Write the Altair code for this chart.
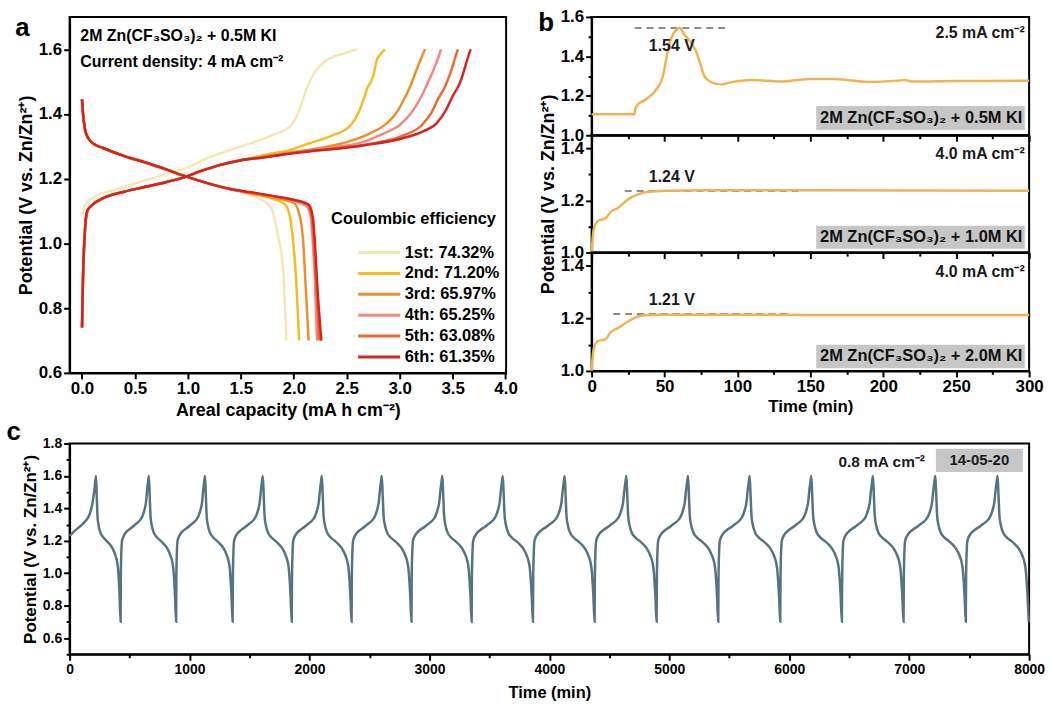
import altair as alt
import pandas as pd

FONT = "Liberation Sans"

# ---------------- panel a : charge / discharge curves ----------------
A_CYCLES = ["1st: 74.32%", "2nd: 71.20%", "3rd: 65.97%", "4th: 65.25%", "5th: 63.08%", "6th: 61.35%"]
A_COLORS = ["#F6E6B6", "#F2BC22", "#E8902E", "#EE8B80", "#EA6B2D", "#D72320"]

CHARGE_BASE = [(0.0, 0.74), (0.01, 0.90), (0.03, 1.05), (0.05, 1.10), (0.1, 1.12), (0.2, 1.14),
               (0.4, 1.16), (0.6, 1.175), (0.8, 1.19), (1.0, 1.208), (1.1, 1.221), (1.2, 1.232),
               (1.3, 1.242), (1.4, 1.25), (1.5, 1.257)]
charge_1 = [(0.0, 1.09), (0.03, 1.12), (0.1, 1.14), (0.3, 1.165), (0.6, 1.195), (0.8, 1.215), (1.0, 1.235),
            (1.2, 1.265), (1.41, 1.29), (1.6, 1.31), (1.8, 1.335), (1.97, 1.363), (2.05, 1.41), (2.13, 1.486),
            (2.2, 1.53), (2.32, 1.568), (2.38, 1.578), (2.5, 1.59), (2.6, 1.60)]
charge_2 = CHARGE_BASE + [(1.7, 1.272), (2.0, 1.292), (2.13, 1.308), (2.35, 1.332), (2.53, 1.363), (2.61, 1.404),
                          (2.66, 1.445), (2.69, 1.476), (2.75, 1.517), (2.785, 1.568), (2.82, 1.585), (2.86, 1.60)]
charge_3 = CHARGE_BASE + [(1.7, 1.268), (2.0, 1.283), (2.3, 1.298), (2.5, 1.313), (2.72, 1.34), (2.88, 1.372),
                          (2.97, 1.404), (3.04, 1.445), (3.10, 1.486), (3.16, 1.537), (3.20, 1.57), (3.24, 1.60)]
charge_4 = CHARGE_BASE + [(1.7, 1.267), (2.03, 1.283), (2.4, 1.298), (2.65, 1.313), (2.85, 1.34), (3.0, 1.366),
                          (3.11, 1.404), (3.19, 1.445), (3.25, 1.486), (3.32, 1.537), (3.36, 1.57), (3.39, 1.60)]
charge_5 = CHARGE_BASE + [(1.7, 1.266), (2.03, 1.282), (2.66, 1.305), (3.03, 1.333), (3.21, 1.366), (3.30, 1.404),
                          (3.36, 1.445), (3.43, 1.486), (3.49, 1.537), (3.52, 1.57), (3.55, 1.60)]
charge_6 = CHARGE_BASE + [(1.7, 1.265), (2.03, 1.28), (2.66, 1.303), (3.03, 1.325), (3.22, 1.346), (3.35, 1.372),
                          (3.44, 1.414), (3.50, 1.455), (3.57, 1.497), (3.61, 1.537), (3.64, 1.57), (3.67, 1.60)]

DISCHARGE_BASE = [(0.0, 1.445), (0.01, 1.40), (0.03, 1.35), (0.06, 1.325), (0.1, 1.31), (0.2, 1.295),
                  (0.4, 1.27), (0.6, 1.25), (0.8, 1.228), (1.0, 1.205), (1.2, 1.185), (1.4, 1.168)]
discharge_1 = DISCHARGE_BASE + [(1.6, 1.148), (1.72, 1.13), (1.79, 1.108), (1.85, 1.025), (1.90, 0.92), (1.93, 0.70)]
discharge_2 = DISCHARGE_BASE + [(1.6, 1.153), (1.8, 1.138), (1.92, 1.12), (1.96, 1.087), (1.99, 1.02), (2.02, 0.90), (2.05, 0.70)]
discharge_3 = DISCHARGE_BASE + [(1.6, 1.155), (1.8, 1.142), (2.0, 1.125), (2.06, 1.08), (2.09, 1.0), (2.11, 0.88), (2.14, 0.70)]
discharge_4 = DISCHARGE_BASE + [(1.6, 1.156), (1.8, 1.145), (2.0, 1.132), (2.12, 1.115), (2.16, 1.085), (2.18, 1.0), (2.20, 0.88), (2.22, 0.70)]
discharge_5 = DISCHARGE_BASE + [(1.6, 1.157), (1.8, 1.146), (2.0, 1.134), (2.13, 1.12), (2.17, 1.08), (2.19, 1.0), (2.21, 0.88), (2.24, 0.70)]
discharge_6 = DISCHARGE_BASE + [(1.6, 1.158), (1.8, 1.147), (2.0, 1.135), (2.14, 1.12), (2.18, 1.08), (2.20, 1.0), (2.22, 0.88), (2.26, 0.70)]

A_CHARGES = [charge_1, charge_2, charge_3, charge_4, charge_5, charge_6]
A_DISCHARGES = [discharge_1, discharge_2, discharge_3, discharge_4, discharge_5, discharge_6]

A_NOTE_TEXT = ["2M Zn(CF\u2083SO\u2083)\u2082 + 0.5M KI", "Current density: 4 mA cm\u207B\u00B2"]
A_NOTE_X = [-0.016, -0.016]
A_NOTE_Y = [1.641, 1.561]

A_XTICKS = [0.0, 0.25, 0.5, 0.75, 1.0, 1.25, 1.5, 1.75, 2.0, 2.25, 2.5, 2.75, 3.0, 3.25, 3.5, 3.75, 4.0]
A_YTICKS = [0.6, 0.7, 0.8, 0.9, 1.0, 1.1, 1.2, 1.3, 1.4, 1.5, 1.6]

# ---------------- panel b : voltage vs time ----------------
B1_T = [0, 29.5, 29.8, 31.8, 35, 38.7, 44.3, 48.9, 51.1, 53.5, 56.4, 58.6, 60.2, 63.7, 68.2, 71.6, 75, 77.3,
        81.8, 88.6, 97.8, 110, 130, 150, 165, 180, 190, 210, 215, 220, 250, 300]
B1_V = [1.106, 1.106, 1.13, 1.157, 1.172, 1.19, 1.232, 1.30, 1.384, 1.469, 1.519, 1.536, 1.545, 1.51, 1.469,
        1.426, 1.35, 1.30, 1.27, 1.258, 1.272, 1.28, 1.272, 1.285, 1.285, 1.276, 1.27, 1.277, 1.28, 1.272, 1.275, 1.276]
B2_T = [0, 0.5, 1.1, 2.3, 4.5, 8, 10.2, 12.5, 18.2, 25, 31.8, 38.6, 52.3, 80, 150, 220, 300]
B2_V = [1.0, 1.04, 1.078, 1.103, 1.122, 1.128, 1.135, 1.153, 1.172, 1.204, 1.223, 1.233, 1.237, 1.239, 1.239, 1.238, 1.237]
B3_T = [0, 0.5, 1.1, 2.3, 4.5, 8, 10.2, 12.5, 18.2, 25, 31.8, 38.6, 52.3, 80, 150, 220, 300]
B3_V = [1.0, 1.04, 1.074, 1.099, 1.114, 1.118, 1.124, 1.143, 1.163, 1.188, 1.207, 1.213, 1.214, 1.214, 1.213, 1.213, 1.213]

B_DASH_T1 = [29.5, 22.7, 14.8]
B_DASH_T2 = [92, 143, 134]
B_DASH_V = [1.544, 1.236, 1.216]
B_VLABEL = ["1.54 V", "1.24 V", "1.21 V"]
B_VLABEL_T = [55, 55, 55]
B_VLABEL_V = [1.452, 1.289, 1.270]
B_CURRENT = ["2.5 mA cm\u207B\u00B2", "4.0 mA cm\u207B\u00B2", "4.0 mA cm\u207B\u00B2"]
B_CURRENT_V = [1.519, 1.379, 1.376]
B_CURRENT_T = 297
B_BOX_T = (154, 297)
B_BOX_V1 = [1.027, 1.015, 1.010]
B_BOX_V2 = [1.148, 1.103, 1.099]
B_BOX_TEXT = ["2M Zn(CF\u2083SO\u2083)\u2082 + 0.5M KI", "2M Zn(CF\u2083SO\u2083)\u2082 + 1.0M KI",
              "2M Zn(CF\u2083SO\u2083)\u2082 + 2.0M KI"]
B_BOX_TEXT_T = 226
B_BOX_TEXT_V = [1.089, 1.059, 1.055]
B_XTICKS = [0, 25, 50, 75, 100, 125, 150, 175, 200, 225, 250, 275, 300]
B_YTICKS_TOP = [1.0, 1.1, 1.2, 1.3, 1.4, 1.5, 1.6]
B_YTICKS = [1.0, 1.1, 1.2, 1.3, 1.4]

# ---------------- panel c : long cycling ----------------
C_FIRST = [(0, 1.23), (40, 1.26), (90, 1.29), (130, 1.32), (165, 1.36), (190, 1.43), (208, 1.52), (220, 1.60)]
C_PEAKS = [220, 661, 1129, 1611, 2103, 2603, 3108, 3612, 4128, 4642, 5156, 5670, 6184, 6698, 7218, 7737]
C_TROUGHS = [425, 888, 1359, 1852, 2351, 2850, 3352, 3863, 4377, 4894, 5408, 5925, 6439, 6953, 7472, 7997]
C_CHARGE_SHAPE = [(0.0, 0.70), (0.01, 1.00), (0.05, 1.20), (0.14, 1.24), (0.25, 1.262), (0.43, 1.287),
                  (0.55, 1.305), (0.71, 1.332), (0.78, 1.355), (0.85, 1.394), (0.90, 1.44), (0.94, 1.517),
                  (0.97, 1.56), (1.0, 1.60)]
C_DISCHARGE_SHAPE = [(0.0, 1.60), (0.03, 1.48), (0.06, 1.353), (0.10, 1.30), (0.18, 1.25), (0.30, 1.22),
                     (0.43, 1.20), (0.56, 1.178), (0.68, 1.152), (0.80, 1.106), (0.86, 1.07), (0.90, 1.025),
                     (0.96, 0.86), (1.0, 0.70)]
C_NOTE = "0.8 mA cm\u207B\u00B2"
C_NOTE_T, C_NOTE_V = 7132, 1.685
C_BOX_T = (7223, 7948)
C_BOX_V = (1.624, 1.767)
C_BOX_TEXT = "14-05-20"
C_BOX_TEXT_T, C_BOX_TEXT_V = 7585, 1.695
C_XTICKS = [0, 500, 1000, 1500, 2000, 2500, 3000, 3500, 4000, 4500, 5000, 5500, 6000, 6500, 7000, 7500, 8000]
C_YTICKS = [0.5, 0.6, 0.7, 0.8, 0.9, 1.0, 1.1, 1.2, 1.3, 1.4, 1.5, 1.6, 1.7, 1.8]

YLABEL = "Potential (V vs. Zn/Zn\u00B2\u207A)"


def make_axis(values, test, fmt, label_size, title_size=18, labels=True, title_pad=3):
    kw = dict(values=values, format=fmt, labels=labels,
              labelExpr=f"({test}) ? datum.label : ''",
              tickSize={"condition": {"test": test, "value": 6}, "value": 3.5},
              tickWidth=2, tickColor="black", domainColor="black", domainWidth=2,
              labelFont=FONT, labelFontSize=label_size, labelFontWeight="bold", labelColor="black",
              labelPadding=2, labelFlush=False, labelOverlap=False, grid=False,
              titleFont=FONT, titleFontSize=title_size, titleFontWeight="bold", titleColor="black",
              titlePadding=title_pad)
    return alt.Axis(**kw)


T_HALF = "abs(datum.value*2 - round(datum.value*2)) < 0.01"
T_FIFTH = "abs(datum.value*5 - round(datum.value*5)) < 0.01"

# ---------- build panel a ----------
rows = []
for name, ch, dis in zip(A_CYCLES, A_CHARGES, A_DISCHARGES):
    for i, (x, v) in enumerate(ch):
        rows.append({"cycle": name, "seg": name + " c", "idx": i, "cap": x, "pot": v})
    for i, (x, v) in enumerate(dis):
        rows.append({"cycle": name, "seg": name + " d", "idx": i, "cap": x, "pot": v})
df_a = pd.DataFrame(rows)

xa = alt.X("cap:Q", scale=alt.Scale(domain=[-0.117, 4.005], nice=False, zero=False),
           axis=make_axis(A_XTICKS, T_HALF, ".1f", 17, title_pad=5), title="Areal capacity (mA h cm\u207B\u00B2)")
ya = alt.Y("pot:Q", scale=alt.Scale(domain=[0.6, 1.7], nice=False, zero=False),
           axis=make_axis(A_YTICKS, T_FIFTH, ".1f", 17), title=YLABEL)

lines_a = alt.Chart(df_a).mark_line(strokeWidth=2.5, interpolate="monotone").encode(
    x=xa, y=ya,
    color=alt.Color("cycle:N", scale=alt.Scale(domain=A_CYCLES, range=A_COLORS),
                    legend=alt.Legend(orient="none", legendX=263, legendY=195,
                                      title="Coulombic efficiency", titleFont=FONT, titleFontSize=16.5,
                                      titleFontWeight="bold", titleColor="black", titlePadding=14,
                                      labelFont=FONT, labelFontSize=16.5, labelFontWeight="bold",
                                      labelColor="black", labelOffset=51, symbolType="M1.57,0H5.8",
                                      symbolSize=400, symbolStrokeWidth=3, rowPadding=1)),
    detail="seg:N", order="idx:Q")

df_a_txt = pd.DataFrame({"cap": A_NOTE_X, "pot": A_NOTE_Y, "t": A_NOTE_TEXT})
text_a = alt.Chart(df_a_txt).mark_text(align="left", baseline="middle", font=FONT, fontSize=16,
                                        fontWeight="bold", color="black").encode(
    x=alt.X("cap:Q"), y=alt.Y("pot:Q"), text="t:N")

chart_a = alt.layer(lines_a, text_a).properties(
    width=439, height=358,
    title=alt.TitleParams("a", anchor="start", frame="bounds", font=FONT, fontSize=26, fontWeight="bold",
                          color="black", baseline="alphabetic", dx=-2, dy=45, offset=0))

# ---------- build panel b ----------
B_CURVES = [(B1_T, B1_V), (B2_T, B2_V), (B3_T, B3_V)]
b_panels = []
for k in range(3):
    t_vals, v_vals = B_CURVES[k]
    top = (k == 0)
    bottom = (k == 2)
    ydom = [1.0, 1.6] if top else [1.0, 1.45]
    yticks = B_YTICKS_TOP if top else B_YTICKS
    h = 119 if k != 1 else 118
    xax = make_axis(B_XTICKS, "datum.value % 50 == 0", "d", 17, title_size=17, labels=bottom, title_pad=4)
    yax = make_axis(yticks, T_FIFTH, ".1f", 17, title_size=18)
    xenc = alt.X("t:Q", scale=alt.Scale(domain=[0, 300], nice=False, zero=False), axis=xax,
                 title="Time (min)" if bottom else None)
    yenc = alt.Y("v:Q", scale=alt.Scale(domain=ydom, nice=False, zero=False), axis=yax,
                 title=YLABEL if k == 1 else None)

    df_box = pd.DataFrame({"t": [B_BOX_T[0]], "t2": [B_BOX_T[1]], "v": [B_BOX_V1[k]], "v2": [B_BOX_V2[k]]})
    box = alt.Chart(df_box).mark_rect(color="#C6C6C6").encode(x=xenc, x2="t2:Q", y=yenc, y2="v2:Q")

    df_curve = pd.DataFrame({"t": t_vals, "v": v_vals})
    curve = alt.Chart(df_curve).mark_line(color="#F0B253", strokeWidth=2.5, interpolate="monotone").encode(
        x=xenc, y=yenc)

    df_dash = pd.DataFrame({"t": [B_DASH_T1[k]], "t2": [B_DASH_T2[k]], "v": [B_DASH_V[k]]})
    dash = alt.Chart(df_dash).mark_rule(color="#8A8A8A", strokeWidth=2, strokeDash=[7, 5]).encode(
        x=xenc, x2="t2:Q", y=yenc)

    df_vl = pd.DataFrame({"t": [B_VLABEL_T[k]], "v": [B_VLABEL_V[k]], "s": [B_VLABEL[k]]})
    vlab = alt.Chart(df_vl).mark_text(font=FONT, fontSize=16, fontWeight="bold", color="#1a1a1a",
                                      align="center", baseline="middle").encode(x=xenc, y=yenc, text="s:N")

    df_cur = pd.DataFrame({"t": [B_CURRENT_T], "v": [B_CURRENT_V[k]], "s": [B_CURRENT[k]]})
    cur = alt.Chart(df_cur).mark_text(font=FONT, fontSize=16, fontWeight="bold", color="#1a1a1a",
                                      align="right", baseline="middle").encode(x=xenc, y=yenc, text="s:N")

    df_bt = pd.DataFrame({"t": [B_BOX_TEXT_T], "v": [B_BOX_TEXT_V[k]], "s": [B_BOX_TEXT[k]]})
    btxt = alt.Chart(df_bt).mark_text(font=FONT, fontSize=16.5, fontWeight="bold", color="#111111",
                                      align="center", baseline="middle").encode(x=xenc, y=yenc, text="s:N")

    b_panels.append(alt.layer(box, dash, curve, vlab, cur, btxt).properties(width=440, height=h))

chart_b = alt.vconcat(*b_panels, spacing=0, bounds="flush").properties(
    title=alt.TitleParams("b", anchor="start", frame="bounds", font=FONT, fontSize=26, fontWeight="bold",
                          color="black", baseline="alphabetic", dx=0, dy=50, offset=0))

# ---------- build panel c ----------
c_rows = list(C_FIRST)
for i in range(len(C_PEAKS)):
    p, tr = C_PEAKS[i], C_TROUGHS[i]
    for f, v in C_DISCHARGE_SHAPE[1:]:
        c_rows.append((p + f * (tr - p), v))
    if i + 1 < len(C_PEAKS):
        nxt = C_PEAKS[i + 1]
        for f, v in C_CHARGE_SHAPE[1:]:
            c_rows.append((tr + f * (nxt - tr), v))
df_c = pd.DataFrame(c_rows, columns=["t", "v"])

xc = alt.X("t:Q", scale=alt.Scale(domain=[0, 8000], nice=False, zero=False),
           axis=make_axis(C_XTICKS, "datum.value % 1000 == 0", "d", 14, title_size=16.5, title_pad=8),
           title="Time (min)")
yc = alt.Y("v:Q", scale=alt.Scale(domain=[0.5, 1.8], nice=False, zero=False),
           axis=make_axis(C_YTICKS, T_FIFTH, ".1f", 14, title_size=17), title=YLABEL)

line_c = alt.Chart(df_c).mark_line(color="#587380", strokeWidth=2.5, interpolate="monotone").encode(x=xc, y=yc)
df_cbox = pd.DataFrame({"t": [C_BOX_T[0]], "t2": [C_BOX_T[1]], "v": [C_BOX_V[0]], "v2": [C_BOX_V[1]]})
box_c = alt.Chart(df_cbox).mark_rect(color="#C6C6C6").encode(x=xc, x2="t2:Q", y=yc, y2="v2:Q")
df_cn = pd.DataFrame({"t": [C_NOTE_T, C_BOX_TEXT_T], "v": [C_NOTE_V, C_BOX_TEXT_V],
                      "s": [C_NOTE, C_BOX_TEXT], "a": ["right", "center"]})
note_c = alt.Chart(df_cn).transform_filter("datum.a == 'right'").mark_text(
    font=FONT, fontSize=15.5, fontWeight="bold", color="#1a1a1a", align="right", baseline="middle").encode(
    x=xc, y=yc, text="s:N")
boxtxt_c = alt.Chart(df_cn).transform_filter("datum.a == 'center'").mark_text(
    font=FONT, fontSize=15, fontWeight="bold", color="#1a1a1a", align="center", baseline="middle").encode(
    x=xc, y=yc, text="s:N")

chart_c = alt.layer(box_c, line_c, note_c, boxtxt_c).properties(
    width=965, height=212,
    title=alt.TitleParams("c", anchor="start", frame="bounds", font=FONT, fontSize=26, fontWeight="bold",
                          color="black", baseline="alphabetic", dx=-15, dy=29, offset=0))

top_row = alt.hconcat(chart_a, chart_b, spacing=86, bounds="flush")
chart = alt.vconcat(top_row, chart_c, spacing=-3).properties(
    padding={"left": 5, "top": 5, "right": 5, "bottom": 5}, background="white"
).configure_view(stroke="black", strokeWidth=2).configure_title(font=FONT)

chart.save("out.html", embed_options={"renderer": "svg", "actions": False})
